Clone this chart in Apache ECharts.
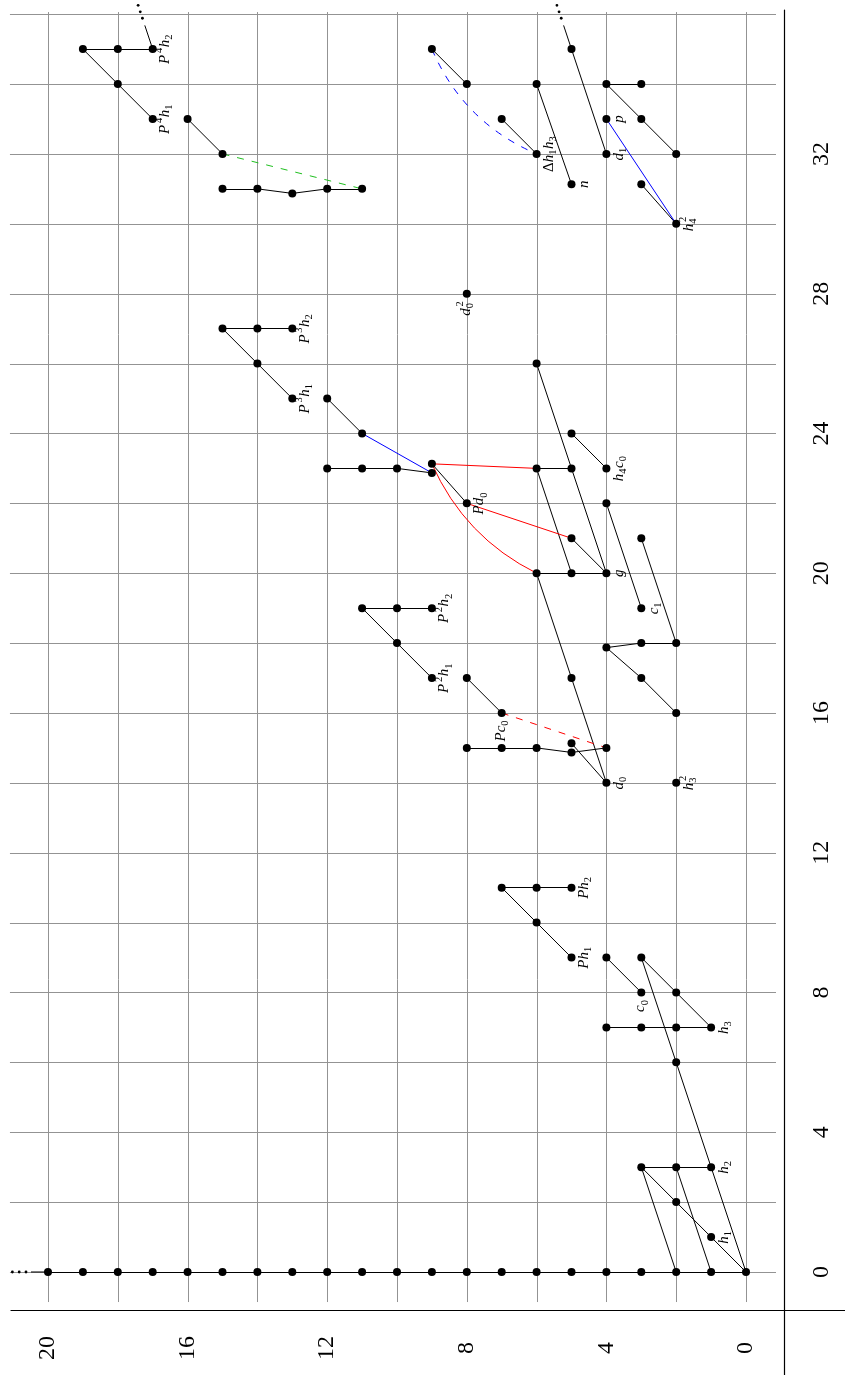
<!DOCTYPE html>
<html>
<head>
<meta charset="utf-8">
<script src="https://cdn.jsdelivr.net/npm/echarts@6/dist/echarts.min.js"></script>
<style>
html,body{margin:0;padding:0;background:#fff;}
#c{width:845px;height:1375px;}
</style>
</head>
<body>
<div id="c"></div>
<script>
// ---------- DATA (stem s, filtration f) ----------
const stemTicks = [0, 4, 8, 12, 16, 20, 24, 28, 32];
const filtTicks = [0, 4, 8, 12, 16, 20];
const gridStems = [0, 2, 4, 6, 8, 10, 12, 14, 16, 18, 20, 22, 24, 26, 28, 30, 32, 34, 36];
const gridFilts = [0, 2, 4, 6, 8, 10, 12, 14, 16, 18, 20];

// h0-tower in stem 0
const towerFilts = [0,1,2,3,4,5,6,7,8,9,10,11,12,13,14,15,16,17,18,19,20];

// other classes [stem, filtration]
const dots = [
  [1,1],[2,2],[3,1],[3,2],[3,3],
  [6,2],
  [7,1],[7,2],[7,3],[7,4],
  [8,2],[8,3],
  [9,3],[9,4],[9,5],
  [10,6],
  [11,5],[11,6],[11,7],
  [14,2],[14,4],
  [14.87,5],[15.13,5],[15,4],[15,6],[15,7],[15,8],
  [16,2],[16,7],
  [17,3],[17,5],[17,8],[17,9],
  [17.87,4],[18,3],[18,2],[18,10],
  [19,3],[19,9],[19,10],[19,11],
  [20,4],[20,5],[20,6],
  [21,3],[21,5],
  [22,4],[22,8],
  [23,4],[23,5],[23,6],[22.87,9],[23.13,9],[23,10],[23,11],[23,12],
  [24,5],[24,11],
  [25,12],[25,13],
  [26,6],[26,14],
  [27,13],[27,14],[27,15],
  [28,8],
  [30,2],
  [31.13,3],[31.13,5],
  [30.87,13],[31,11],[31,12],[31,14],[31,15],
  [32,2],[32,4],[32,6],[32,15],
  [33,3],[33,4],[33,7],[33,16],[33,17],
  [34,3],[34,4],[34,6],[34,8],[34,18],
  [35,5],[35,9],[35,17],[35,18],[35,19]
];

// edges [s1, f1, s2, f2]
const blackEdges = [
  [0,0,1,1],[1,1,2,2],[2,2,3,3],
  [0,0,3,1],[0,1,3,2],[0,2,3,3],
  [3,1,3,2],[3,2,3,3],
  [3,1,6,2],[6,2,9,3],
  [7,1,7,2],[7,2,7,3],[7,3,7,4],
  [7,1,8,2],[8,2,9,3],
  [8,3,9,4],
  [9,5,10,6],[10,6,11,7],
  [11,5,11,6],[11,6,11,7],
  [14,4,15.13,5],
  [14,4,17,5],[17,5,20,6],
  [15,4,14.87,5],[14.87,5,15,6],[15,6,15,7],[15,7,15,8],
  [16,7,17,8],
  [16,2,17,3],[17,3,17.87,4],
  [17.87,4,18,3],[18,3,18,2],
  [17,9,18,10],[18,10,19,11],
  [19,9,19,10],[19,10,19,11],
  [18,2,21,3],
  [19,3,22,4],
  [20,4,20,5],[20,5,20,6],
  [20,4,21,5],
  [20,4,23,5],[23,5,26,6],
  [20,5,23,6],
  [23,5,23,6],
  [23,4,24,5],
  [22,8,23.13,9],
  [22.87,9,23,10],[23,10,23,11],[23,11,23,12],
  [24,11,25,12],
  [25,13,26,14],[26,14,27,15],
  [27,13,27,14],[27,14,27,15],
  [30,2,31.13,3],
  [32,2,33,3],[33,3,34,4],
  [34,3,34,4],
  [32,4,35,5],
  [31.13,5,34,6],
  [32,6,33,7],
  [34,8,35,9],
  [31,11,31,12],[31,12,30.87,13],[30.87,13,31,14],[31,14,31,15],
  [32,15,33,16],
  [33,17,34,18],[34,18,35,19],
  [35,17,35,18],[35,18,35,19]
];
const redEdges = [[22,8,21,5],[23.13,9,23,6]];
const redCurves = [[23.13,9,20,6]];
const redDashed = [[16,7,15,4]];
const blueEdges = [[24,11,22.87,9],[33,4,30,2]];
const blueDashedCurves = [[35,9,32,6]];
const greenDashed = [[32,15,31,11]];

// continuation arrows [s, f, ds, df]
const continuations = [[0,20,0,1],[35,17,3,1],[35,5,3,1]];

// labels [s, f, tex]
const labels = [
  [1,1,'h_1'],[3,1,'h_2'],[7,1,'h_3'],[8,3,'c_0'],[9,5,'Ph_1'],[11,5,'Ph_2'],
  [14,4,'d_0'],[14,2,'h_3^2'],[16,7,'Pc_0'],[17,9,'P^2h_1'],[19,9,'P^2h_2'],
  [19,3,'c_1'],[20,4,'g'],[22,8,'Pd_0'],[23,4,'h_4c_0'],[25,13,'P^3h_1'],
  [27,13,'P^3h_2'],[28,8,'d_0^2'],[30,2,'h_4^2'],[31.13,5,'n'],[32,4,'d_1'],
  [32,6,'\u0394h_1h_3'],[33,4,'p'],[33,17,'P^4h_1'],[35,17,'P^4h_2']
];
// ---------- STYLE / LAYOUT ----------
const labelLeft = {'c_0':1, 'Pc_0':1, 'd_0^2':1};
const SERIF = 'Liberation Serif';
const BASE_SIZE = 15, SCRIPT_SIZE = 10.5;
const GRID_F_EXT = [-0.86, 21.09];
const GRID_S_EXT = [-0.86, 36.06];

const mctx = document.createElement('canvas').getContext('2d');
function fontStr(italic, size){ return (italic ? 'italic ' : 'normal ') + size + 'px "' + SERIF + '"'; }
function measure(t, italic, size){ mctx.font = fontStr(italic, size); return mctx.measureText(t).width; }
function parseTex(str){
  const atoms = []; let i = 0;
  while (i < str.length) {
    const ch = str[i++];
    if (ch === '_' || ch === '^') {
      const v = str[i++]; const a = atoms[atoms.length - 1];
      if (ch === '_') a.sub = v; else a.sup = v;
      continue;
    }
    atoms.push({base: ch, italic: /[A-Za-z]/.test(ch)});
  }
  return atoms;
}

const toXY = e => [[e[1], e[0]], [e[3], e[2]]];
function edgeSeries(list, color, type, curveness, z){
  return {
    type: 'lines', coordinateSystem: 'cartesian2d', polyline: false, silent: true, z: z,
    data: list.map(e => ({coords: toXY(e)})),
    lineStyle: {color: color, width: 1, opacity: 1, type: type, curveness: curveness},
    symbol: 'none', animation: false
  };
}

const chart = echarts.init(document.getElementById('c'), null, {renderer: 'canvas'});
const option = {
  animation: false,
  backgroundColor: '#fff',
  grid: {left: 11, top: 10, right: 0, bottom: 0, containLabel: false, outerBoundsMode: 'none'},
  xAxis: {
    type: 'value', inverse: true, min: -2.8367, max: 21.06,
    position: 'bottom', offset: -65,
    axisLine: {show: true, onZero: false, lineStyle: {color: '#000', width: 1.2}},
    axisTick: {show: false}, splitLine: {show: false},
    axisLabel: {customValues: filtTicks, rotate: 90, margin: 38, align: 'center', verticalAlign: 'middle',
      fontSize: 24, fontFamily: SERIF, color: '#000', showMinLabel: true, showMaxLabel: true}
  },
  yAxis: {
    type: 'value', min: -2.948, max: 36.119,
    position: 'right', offset: -61,
    axisLine: {show: true, onZero: false, lineStyle: {color: '#000', width: 1.2}},
    axisTick: {show: false}, splitLine: {show: false},
    axisLabel: {customValues: stemTicks, rotate: 90, margin: 38, align: 'center', verticalAlign: 'middle',
      fontSize: 24, fontFamily: SERIF, color: '#000', showMinLabel: true, showMaxLabel: true}
  },
  series: [
    { // grid lines
      type: 'custom', coordinateSystem: 'cartesian2d', silent: true, z: 1, data: [[0, 0]],
      renderItem: function(params, api){
        const ch = [];
        gridFilts.forEach(f => {
          const a = api.coord([f, GRID_S_EXT[0]]), b = api.coord([f, GRID_S_EXT[1]]);
          const x = Math.round(a[0]) + 0.5;
          ch.push({type: 'line', shape: {x1: x, y1: a[1], x2: x, y2: b[1]}, style: {stroke: '#939393', lineWidth: 1}});
        });
        gridStems.forEach(s => {
          const a = api.coord([GRID_F_EXT[0], s]), b = api.coord([GRID_F_EXT[1], s]);
          const y = Math.round(a[1]) + 0.5;
          ch.push({type: 'line', shape: {x1: a[0], y1: y, x2: b[0], y2: y}, style: {stroke: '#939393', lineWidth: 1}});
        });
        return {type: 'group', children: ch};
      }
    },
    edgeSeries(towerFilts.slice(1).map((f, i) => [0, towerFilts[i], 0, f]), '#000', 'solid', 0, 2),
    edgeSeries(blackEdges, '#000', 'solid', 0, 2),
    edgeSeries(redEdges, '#ff0000', 'solid', 0, 2),
    edgeSeries(redCurves, '#ff0000', 'solid', -0.18, 2),
    edgeSeries(redDashed, '#ff0000', [7, 8], 0, 2),
    edgeSeries(blueEdges, '#0000ff', 'solid', 0, 2),
    edgeSeries(blueDashedCurves, '#0000ff', [7, 8], -0.2, 2),
    edgeSeries(greenDashed, '#1fbf1f', [7, 8], 0, 2),
    { // continuation marks
      type: 'custom', coordinateSystem: 'cartesian2d', silent: true, z: 3, data: [[0, 0]],
      renderItem: function(params, api){
        const ch = [];
        continuations.forEach(c => {
          const p0 = api.coord([c[1], c[0]]), p1 = api.coord([c[1] + c[3], c[0] + c[2]]);
          let dx = p1[0] - p0[0], dy = p1[1] - p0[1]; const n = Math.hypot(dx, dy); dx /= n; dy /= n;
          const L = c[2] === 0 ? 17 : 25, start = c[2] === 0 ? 22 : 32.5;
          ch.push({type: 'line', shape: {x1: p0[0], y1: p0[1], x2: p0[0] + L * dx, y2: p0[1] + L * dy}, style: {stroke: '#000', lineWidth: 1}});
          for (let k = 0; k < 3; k++) {
            const d = start + k * 6.8;
            ch.push({type: 'circle', shape: {cx: p0[0] + d * dx, cy: p0[1] + d * dy, r: 1.4}, style: {fill: '#000'}});
          }
        });
        return {type: 'group', children: ch};
      }
    },
    { // dots
      type: 'scatter', silent: true, z: 4, symbol: 'circle', symbolSize: 8,
      itemStyle: {color: '#000', opacity: 1},
      data: towerFilts.map(f => [f, 0]).concat(dots.map(d => [d[1], d[0]]))
    },
    { // labels
      type: 'custom', coordinateSystem: 'cartesian2d', silent: true, z: 5,
      data: labels.map(l => [l[1], l[0]]),
      renderItem: function(params, api){
        const L = labels[params.dataIndex];
        const p = api.coord([api.value(0), api.value(1)]);
        const atoms = parseTex(L[2]);
        const parts = []; let x = 0;
        atoms.forEach(a => {
          parts.push({t: a.base, x: x, k: 0, it: a.italic});
          x += measure(a.base, a.italic, BASE_SIZE);
          let adv = 0;
          const ic = a.italic ? 1.8 : 0.5;
          if (a.sup) { parts.push({t: a.sup, x: x + ic, k: 1}); adv = Math.max(adv, measure(a.sup, false, SCRIPT_SIZE) + ic); }
          if (a.sub) { parts.push({t: a.sub, x: x, k: 2}); adv = Math.max(adv, measure(a.sub, false, SCRIPT_SIZE)); }
          x += adv + (a.sup || a.sub ? 0.5 : 0);
        });
        const W = x;
        const left = !!labelLeft[L[2]];
        const x0 = left ? -7 - W : -W / 2;
        const yMid = left ? -1 : 12.5;
        const ch = parts.map(pt => ({
          type: 'text', x: x0 + pt.x, y: yMid + (pt.k === 1 ? -5.5 : pt.k === 2 ? 4.5 : 0),
          style: {
            text: pt.t, fill: '#000',
            fontSize: pt.k ? SCRIPT_SIZE : BASE_SIZE,
            fontStyle: (pt.k === 0 && pt.it) ? 'italic' : 'normal',
            fontFamily: SERIF, align: 'left', verticalAlign: 'middle'
          }
        }));
        return {type: 'group', x: p[0], y: p[1], rotation: Math.PI / 2, children: ch};
      }
    }
  ]
};
chart.setOption(option);
</script>
</body>
</html>
